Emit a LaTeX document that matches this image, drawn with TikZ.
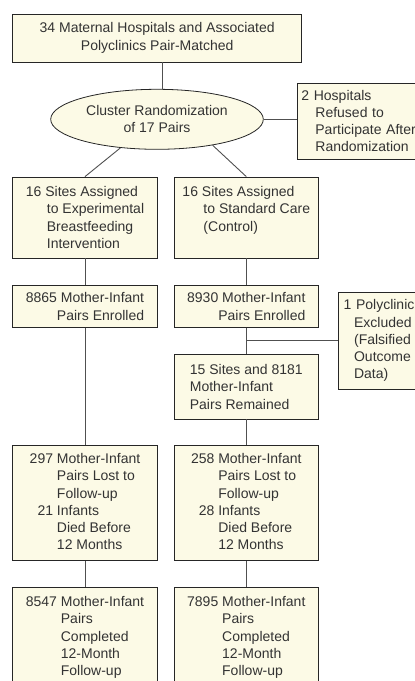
\documentclass[tikz,border=0pt]{standalone}
\usepackage{fontspec}
\setmainfont{Liberation Sans}
\usepackage{xcolor}
\usetikzlibrary{shapes.geometric}
\definecolor{boxfill}{RGB}{252,250,230}
\definecolor{linegray}{RGB}{80,80,80}

\begin{document}
\begin{tikzpicture}[x=1pt, y=-1pt,
  every node/.style={draw=black!85, fill=boxfill, text=black!80, line width=0.8pt, inner sep=0pt, font=\fontsize{14}{17.3}\selectfont},
  box/.style={rectangle, align=left, minimum width=144.6pt},
  sidebox/.style={rectangle, align=left, anchor=west, inner xsep=4pt},
  link/.style={draw=linegray, line width=0.9pt}]
\useasboundingbox (0,0) rectangle (415,681);
\clip (0,0) rectangle (415,681);
% Boxes
\node[box, minimum width=289pt, minimum height=48pt, align=center] (pool) at (157.2,38) {34 Maternal Hospitals and Associated\\Polyclinics Pair-Matched};
\node[ellipse, minimum width=212.6pt, minimum height=60pt, align=center] (rand) at (157,119.3) {Cluster Randomization\\of 17 Pairs};
\node[sidebox, text width=150pt, minimum height=76pt] (refused) at (297,121) {2 Hospitals\\\hspace*{1em}Refused to\\\hspace*{1em}Participate After\\\hspace*{1em}Randomization};
\node[box, minimum height=81pt] (expA) at (85,217.5) {16 Sites Assigned\\\hspace*{1.5em}to Experimental\\\hspace*{1.5em}Breastfeeding\\\hspace*{1.5em}Intervention};
\node[box, minimum height=81pt] (stdA) at (246.3,217.5) {16 Sites Assigned\\\hspace*{1.5em}to Standard Care\\\hspace*{1.5em}(Control)\\\mbox{}};
\node[box, minimum height=41.6pt, align=right] (expB) at (85,306.5) {8865 Mother-Infant\\Pairs Enrolled};
\node[box, minimum height=41.6pt, align=right] (stdB) at (246.3,306.5) {8930 Mother-Infant\\Pairs Enrolled};
\node[sidebox, inner xsep=5.5pt, text width=120pt, minimum height=96.7pt] (excl) at (337.7,340.7) {1 Polyclinic\\\hspace*{0.75em}Excluded\\\hspace*{0.75em}(Falsified\\\hspace*{0.75em}Outcome\\\hspace*{0.75em}Data)};
\node[box, minimum height=64.7pt] (stdC) at (246.3,386.7) {15 Sites and 8181\\Mother-Infant\\Pairs Remained};
\node[box, minimum height=115pt] (expD) at (85,503.2) {\begin{tabular}{@{}r@{\ }l@{}}
297 & Mother-Infant\\ & Pairs Lost to\\ & Follow-up\\ 21 & Infants\\ & Died Before\\ & 12 Months
\end{tabular}};
\node[box, minimum height=115pt] (stdD) at (246.3,503.2) {\begin{tabular}{@{}r@{\ }l@{}}
258 & Mother-Infant\\ & Pairs Lost to\\ & Follow-up\\ 28 & Infants\\ & Died Before\\ & 12 Months
\end{tabular}};
\node[box, minimum height=100.3pt] (expE) at (85,637.8) {\begin{tabular}{@{}r@{\ }l@{}}
8547 & Mother-Infant\\ & Pairs\\ & Completed\\ & 12-Month\\ & Follow-up
\end{tabular}};
\node[box, minimum height=100.3pt] (stdE) at (246.3,637.8) {\begin{tabular}{@{}r@{\ }l@{}}
7895 & Mother-Infant\\ & Pairs\\ & Completed\\ & 12-Month\\ & Follow-up
\end{tabular}};
% Links
\draw[link] ([xshift=5pt]pool.south) -- ([xshift=5pt]pool.south |- rand.north);
\draw[link] (rand.east) -- (rand.east -| refused.west);
\draw[link] (rand.-142) -- (expA.north);
\draw[link] (rand.-25) -- (stdA.north);
\draw[link] (expA) -- (expB);
\draw[link] (stdA) -- (stdB);
\draw[link] (expB) -- (expD);
\draw[link] (stdB) -- (stdC);
\draw[link] (excl.west) -- (excl.west -| stdB.south);
\draw[link] (stdC) -- (stdD);
\draw[link] (expD) -- (expE);
\draw[link] (stdD) -- (stdE);
\end{tikzpicture}
\end{document}
